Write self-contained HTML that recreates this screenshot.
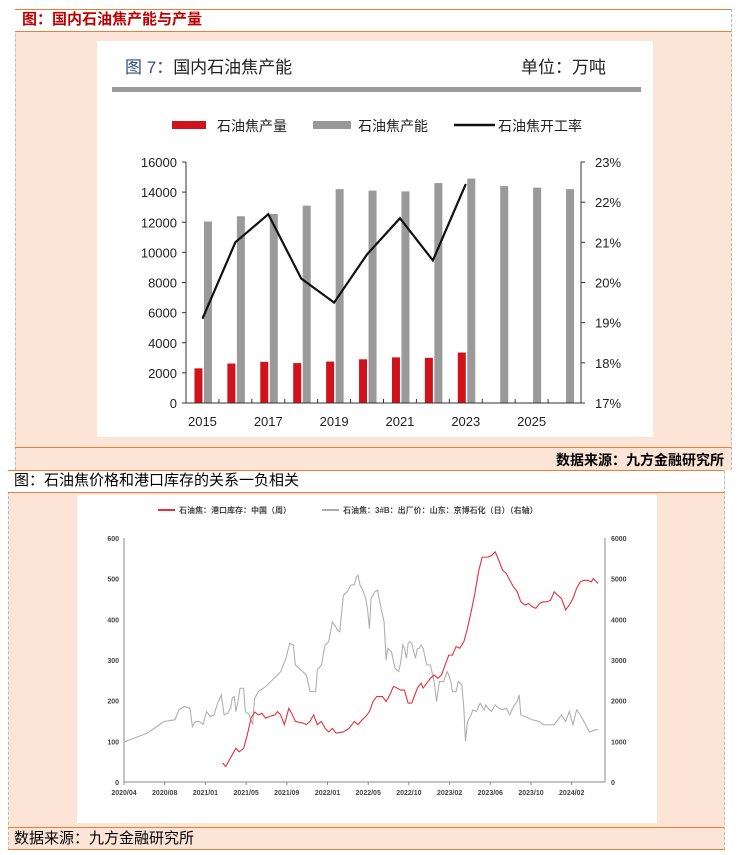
<!DOCTYPE html>
<html><head><meta charset="utf-8">
<style>
body{margin:0;width:746px;height:855px;background:#fff;position:relative;overflow:hidden;font-family:"Liberation Sans","Noto Sans CJK SC",sans-serif}
.abs{position:absolute}
</style></head><body>
<!-- top section -->
<div class="abs" style="left:15px;top:9px;width:715px;height:461px;background:#fce4d6;border-left:1px dashed #bbb;border-right:1px dashed #bbb"></div>
<div class="abs" style="left:15px;top:9px;width:716px;height:21px;background:#fff;border-top:1.5px solid #ed7d31;border-bottom:1.5px solid #ed7d31"></div>
<div class="abs" style="left:22px;top:9px;font-size:15px;font-weight:bold;color:#c00000;line-height:22px">图：国内石油焦产能与产量</div>
<div class="abs" style="left:15px;top:447px;width:716px;height:0;border-top:1.5px solid #ed7d31"></div>
<div class="abs" style="right:22px;top:450px;font-size:14px;font-weight:bold;color:#000;line-height:20px">数据来源：九方金融研究所</div>
<div class="abs" style="left:97px;top:41px;width:556px;height:396px;background:#fff"></div>
<svg class="abs" style="left:0;top:0" width="746" height="470" id="top">
<text x="125" y="73" font-size="17" fill="#2e4a8a" font-family="Liberation Sans,Noto Sans CJK SC,sans-serif">图 7：<tspan fill="#222">国内石油焦产能</tspan></text>
<text x="606" y="73" font-size="17" fill="#222" text-anchor="end" font-family="Liberation Sans,Noto Sans CJK SC,sans-serif">单位：万吨</text>
<rect x="112" y="87" width="529" height="5" fill="#999"/>
<rect x="172" y="121" width="34" height="8" fill="#d0121b"/>
<text x="217" y="131" font-size="14" fill="#222" font-family="Liberation Sans,Noto Sans CJK SC,sans-serif">石油焦产量</text>
<rect x="313" y="121" width="38" height="8" fill="#999"/>
<text x="358" y="131" font-size="14" fill="#222" font-family="Liberation Sans,Noto Sans CJK SC,sans-serif">石油焦产能</text>
<line x1="454" y1="125" x2="495" y2="125" stroke="#111" stroke-width="2.5"/>
<text x="498" y="131" font-size="14" fill="#222" font-family="Liberation Sans,Noto Sans CJK SC,sans-serif">石油焦开工率</text>
</svg>
<!-- bottom section -->
<div class="abs" style="left:8px;top:471px;width:715px;height:379px;background:#fce4d6;border-left:1px dashed #bbb;border-right:1px dashed #bbb"></div>
<div class="abs" style="left:8px;top:470px;width:716px;height:21px;background:#fff;border-top:1.5px solid #ed7d31;border-bottom:1.5px solid #ed7d31"></div>
<div class="abs" style="left:14px;top:470px;font-size:15px;color:#000;line-height:22px">图：石油焦价格和港口库存的关系一负相关</div>
<div class="abs" style="left:77px;top:495px;width:580px;height:328px;background:#fff"></div>
<div class="abs" style="left:8px;top:827px;width:716px;height:21px;border-top:1.5px solid #ed7d31;border-bottom:1.5px solid #ed7d31"></div>
<div class="abs" style="left:14px;top:828px;font-size:15px;color:#000;line-height:21px">数据来源：九方金融研究所</div>
<svg class="abs" style="left:0;top:0" width="746" height="855" id="bot">
<line x1="158" y1="510" x2="175" y2="510" stroke="#e8303a" stroke-width="2"/>
<text x="179" y="513" font-size="8" font-weight="bold" fill="#444" font-family="Liberation Sans,Noto Sans CJK SC,sans-serif">石油焦：港口库存：中国（周）</text>
<line x1="322" y1="510" x2="339" y2="510" stroke="#aaa" stroke-width="2"/>
<text x="343" y="513" font-size="8" font-weight="bold" fill="#444" font-family="Liberation Sans,Noto Sans CJK SC,sans-serif">石油焦：3#B：出厂价：山东：京博石化（日）（右轴）</text>
</svg>
<script>
// ---- top chart data ----
const years=[2015,2016,2017,2018,2019,2020,2021,2022,2023,2024,2025,2026];
const production=[2300,2620,2730,2650,2750,2900,3030,3000,3350];
const capacity=[12050,12400,12550,13100,14200,14100,14050,14600,14900,14400,14300,14200];
const rate=[19.1,21.0,21.7,20.1,19.5,20.7,21.6,20.55,22.45];
const leftTicks=[0,2000,4000,6000,8000,10000,12000,14000,16000];
const rightTicks=[17,18,19,20,21,22,23];
const yearLabels=["2015","2017","2019","2021","2023","2025"];
// ---- bottom chart data ----
const dateLabels=["2020/04","2020/08","2021/01","2021/05","2021/09","2022/01","2022/05","2022/10","2023/02","2023/06","2023/10","2024/02"];
const priceT=[0,0.57,0.98,1.25,1.35,1.48,1.62,1.68,1.75,1.85,1.94,2.03,2.12,2.21,2.30,2.39,2.46,2.55,2.62,2.66,2.71,2.75,2.80,2.85,2.94,2.98,3.07,3.16,3.21,3.30,3.48,3.85,3.98,4.07,4.16,4.21,4.39,4.48,4.57,4.71,4.75,4.85,4.94,5.03,5.12,5.25,5.30,5.39,5.48,5.57,5.66,5.71,5.75,5.80,5.85,5.94,5.98,6.03,6.07,6.12,6.16,6.23,6.30,6.39,6.44,6.48,6.57,6.66,6.75,6.80,6.85,6.89,6.94,6.98,7.03,7.07,7.12,7.16,7.21,7.25,7.30,7.35,7.44,7.53,7.62,7.68,7.75,7.85,7.94,7.98,8.03,8.07,8.16,8.21,8.30,8.35,8.39,8.44,8.53,8.57,8.66,8.75,8.85,8.89,8.94,9.03,9.12,9.21,9.30,9.39,9.48,9.57,9.66,9.71,9.75,9.85,10.03,10.21,10.30,10.57,10.75,10.85,10.94,11.03,11.12,11.21,11.30,11.44,11.57,11.65];
const priceV=[981,1202,1488,1529,1774,1856,1815,1365,1488,1488,1422,1733,1610,1651,1937,2142,1651,1692,1815,2060,2101,1733,1978,2305,2305,1733,1667,1406,2060,2223,2346,2714,3041,3409,3368,2877,2714,2632,2223,2223,2755,2877,3368,3449,3940,3736,3695,4594,4676,4839,4855,5043,5084,4839,4757,4512,4267,3776,4512,4594,4676,4716,4349,3940,3000,3286,3204,2795,2714,2959,3368,3286,3041,3409,3449,3409,3204,3041,3286,3286,3368,3286,2877,2877,2469,1978,2469,2469,2714,2632,2469,2223,2223,2469,2387,1815,997,1488,1651,1774,1733,1937,1774,1896,1815,1733,1896,1815,1774,1815,1651,1856,1978,2142,1651,1610,1529,1488,1406,1406,1651,1488,1733,1406,1774,1651,1488,1226,1283,1283];
const invT=[2.42,2.50,2.57,2.75,2.83,2.94,3.03,3.12,3.21,3.30,3.39,3.48,3.57,3.71,3.77,3.85,3.94,4.05,4.12,4.21,4.39,4.48,4.57,4.66,4.75,4.85,4.94,5.03,5.12,5.21,5.39,5.53,5.66,5.75,5.85,5.94,6.03,6.12,6.21,6.35,6.44,6.53,6.62,6.71,6.80,6.89,6.98,7.07,7.21,7.30,7.35,7.44,7.53,7.62,7.71,7.80,7.89,7.98,8.07,8.16,8.25,8.35,8.44,8.53,8.62,8.71,8.80,8.94,9.03,9.12,9.21,9.30,9.39,9.48,9.57,9.66,9.75,9.85,9.94,10.03,10.12,10.21,10.30,10.39,10.48,10.57,10.66,10.75,10.85,10.94,11.03,11.12,11.21,11.30,11.39,11.48,11.53,11.65];
const invV=[47,38,51,83,74,83,116,157,172,165,169,157,161,165,173,165,141,181,169,149,145,141,149,165,141,149,132,123,132,120,123,132,149,141,153,161,173,198,210,210,198,214,235,231,226,226,194,194,231,243,231,243,255,263,255,263,288,312,312,333,329,345,378,419,463,517,553,553,557,566,545,521,513,496,480,468,443,435,439,431,427,439,443,443,447,468,459,451,423,435,451,476,492,496,496,492,500,488];
const invTicks=[0,100,200,300,400,500,600];
const priceTicks=[0,1000,2000,3000,4000,5000,6000];

const NS="http://www.w3.org/2000/svg";
function mk(svg,tag,attrs,text){const e=document.createElementNS(NS,tag);for(const k in attrs)e.setAttribute(k,attrs[k]);if(text!==undefined)e.textContent=text;svg.appendChild(e);return e;}
const FF="Liberation Sans,Noto Sans CJK SC,sans-serif";

// top chart
(function(){
const svg=document.getElementById('top');
const L=186,R=581,Y0=403,Y1=162;
const cw=(R-L)/years.length;
const cx=i=>L+cw*(i+0.5);
const yl=v=>Y0-(v/16000)*(Y0-Y1);
const yr=v=>Y0-((v-17)/6)*(Y0-Y1);
capacity.forEach((v,i)=>{const r=mk(svg,'rect',{x:cx(i)+1.5,y:yl(v),width:8,height:Y0-yl(v),fill:'#9a9a9a'});

});
production.forEach((v,i)=>{const r=mk(svg,'rect',{x:cx(i)-8,y:yl(v),width:8,height:Y0-yl(v),fill:'#d0121b'});

});
const pl=mk(svg,'polyline',{points:rate.map((v,i)=>cx(i)+','+yr(v)).join(' '),fill:'none',stroke:'#111','stroke-width':2.2,'stroke-linejoin':'miter'});


const ax=mk(svg,'path',{d:`M${L} ${Y1}V${Y0}H${R}V${Y1}`,fill:'none',stroke:'#333','stroke-width':1});


leftTicks.forEach(v=>{mk(svg,'line',{x1:L-4,x2:L,y1:yl(v),y2:yl(v),stroke:'#333'});
const t=mk(svg,'text',{x:L-9,y:yl(v)+5,'font-size':13,'text-anchor':'end',fill:'#222','font-family':FF},String(v));

});
rightTicks.forEach(v=>{mk(svg,'line',{x1:R,x2:R+4,y1:yr(v),y2:yr(v),stroke:'#333'});
const t=mk(svg,'text',{x:R+14,y:yr(v)+5,'font-size':13,fill:'#222','font-family':FF},v+'%');

});
for(let i=0;i<=years.length;i++)mk(svg,'line',{x1:L+cw*i,x2:L+cw*i,y1:Y0,y2:Y0-4,stroke:'#333'});
yearLabels.forEach((s,k)=>{const t=mk(svg,'text',{x:cx(k*2),y:Y0+23,'font-size':13,'text-anchor':'middle',fill:'#222','font-family':FF},s);

});
})();

// bottom chart
(function(){
const svg=document.getElementById('bot');
const L=124,R=605,Y0=782,Y1=538,step=40.7;
const x=t=>L+t*step;
const yl=v=>Y0-(v/600)*(Y0-Y1);
const yr=v=>Y0-(v/6000)*(Y0-Y1);
const ax=mk(svg,'path',{d:`M${L} ${Y1}V${Y0}H${R}V${Y1}`,fill:'none',stroke:'#888','stroke-width':1});


invTicks.forEach(v=>{const t=mk(svg,'text',{x:L-5,y:yl(v)+3,'font-size':7,'font-weight':'bold','text-anchor':'end',fill:'#444','font-family':FF},String(v));

});
priceTicks.forEach(v=>{const t=mk(svg,'text',{x:R+6,y:yr(v)+3,'font-size':7,'font-weight':'bold',fill:'#444','font-family':FF},String(v));

});
dateLabels.forEach((s,i)=>{mk(svg,'line',{x1:x(i),x2:x(i),y1:Y0,y2:Y0+3,stroke:'#888'});
const t=mk(svg,'text',{x:x(i),y:Y0+13,'font-size':7,'font-weight':'bold','text-anchor':'middle',fill:'#444','font-family':FF},s);

});
const g=mk(svg,'polyline',{points:priceT.map((t,i)=>x(t)+','+yr(priceV[i])).join(' '),fill:'none',stroke:'#b0b0b0','stroke-width':1.1});


const r=mk(svg,'polyline',{points:invT.map((t,i)=>x(t)+','+yl(invV[i])).join(' '),fill:'none',stroke:'#e8303a','stroke-width':1.1});


})();
</script>
</body></html>
